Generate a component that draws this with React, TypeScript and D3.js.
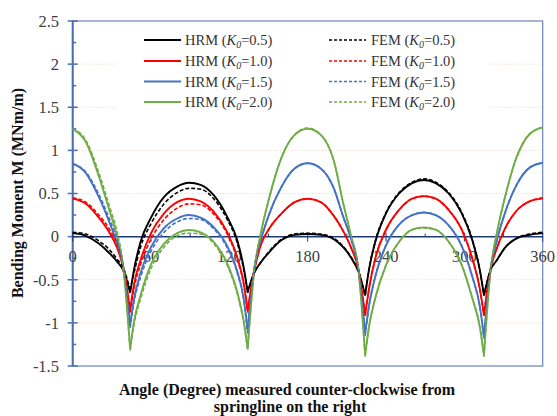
import React, { useEffect, useRef } from "react";
import * as d3 from "d3";

// angle (deg) where the moments were read; joints are the sharp negative cusps
const angles = [
  0, 10, 20, 28, 34, 39, 44,
  47, 52, 60, 70, 80, 89, 98, 108, 118, 126, 131, 134,
  139, 144, 150, 160, 170, 180, 190, 200, 207, 213, 219, 224,
  227, 232, 240, 250, 260, 269, 278, 288, 298, 306, 312, 315,
  320, 325, 331, 340, 350, 360,
];
const joints = [44, 134, 224, 315];

const hrm05 = [
  0.04, 0.01, -0.08, -0.19, -0.29, -0.4, -0.65,
  -0.38, -0.06, 0.22, 0.46, 0.58, 0.625, 0.6, 0.48, 0.24, -0.04, -0.36, -0.64,
  -0.42, -0.3, -0.19, -0.04, 0.02, 0.03, 0.02, -0.03, -0.12, -0.24, -0.41, -0.68,
  -0.38, -0.05, 0.27, 0.5, 0.62, 0.656, 0.62, 0.5, 0.27, -0.04, -0.4, -0.68,
  -0.39, -0.27, -0.13, -0.02, 0.02, 0.04,
];
const hrm10 = [
  0.44, 0.38, 0.22, 0.05, -0.13, -0.38, -0.85,
  -0.55, -0.27, 0.04, 0.27, 0.4, 0.44, 0.41, 0.29, 0.06, -0.24, -0.54, -0.85,
  -0.4, -0.1, 0.08, 0.27, 0.4, 0.44, 0.4, 0.24, 0.07, -0.12, -0.39, -0.91,
  -0.6, -0.24, 0.08, 0.31, 0.44, 0.47, 0.44, 0.31, 0.08, -0.25, -0.62, -0.91,
  -0.38, -0.13, 0.09, 0.3, 0.41, 0.44,
];
const hrm15 = [
  0.85, 0.74, 0.46, 0.17, -0.08, -0.39, -1.02,
  -0.72, -0.42, -0.12, 0.1, 0.21, 0.25, 0.22, 0.11, -0.1, -0.4, -0.72, -1.08,
  -0.38, -0.05, 0.24, 0.58, 0.79, 0.85, 0.79, 0.56, 0.24, -0.02, -0.39, -1.12,
  -0.8, -0.45, -0.1, 0.14, 0.25, 0.28, 0.25, 0.13, -0.11, -0.46, -0.82, -1.16,
  -0.39, -0.04, 0.27, 0.6, 0.8, 0.857,
];
const hrm20 = [
  1.25, 1.1, 0.7, 0.31, 0.0, -0.4, -1.3,
  -0.98, -0.68, -0.32, -0.08, 0.04, 0.077, 0.05, -0.06, -0.3, -0.64, -0.98, -1.29,
  -0.4, 0.03, 0.42, 0.92, 1.18, 1.25, 1.18, 0.88, 0.4, 0.02, -0.4, -1.37,
  -1.04, -0.7, -0.33, -0.06, 0.08, 0.107, 0.08, -0.06, -0.33, -0.71, -1.06, -1.37,
  -0.4, 0.05, 0.45, 0.92, 1.19, 1.267,
];
const fem05 = [
  0.05, 0.03, -0.05, -0.15, -0.26, -0.37, -0.62,
  -0.42, -0.12, 0.15, 0.38, 0.51, 0.56, 0.55, 0.44, 0.21, -0.07, -0.38, -0.65,
  -0.42, -0.3, -0.18, -0.03, 0.03, 0.04, 0.03, -0.02, -0.11, -0.23, -0.41, -0.68,
  -0.37, -0.04, 0.28, 0.51, 0.63, 0.67, 0.63, 0.51, 0.28, -0.03, -0.4, -0.68,
  -0.39, -0.27, -0.13, -0.02, 0.03, 0.05,
];
const fem10 = [
  0.45, 0.4, 0.25, 0.09, -0.09, -0.36, -0.88,
  -0.6, -0.32, -0.03, 0.2, 0.33, 0.38, 0.37, 0.26, 0.04, -0.26, -0.56, -0.88,
  -0.4, -0.1, 0.08, 0.27, 0.4, 0.44, 0.4, 0.24, 0.07, -0.12, -0.39, -0.92,
  -0.6, -0.24, 0.08, 0.31, 0.44, 0.47, 0.44, 0.31, 0.08, -0.25, -0.62, -0.92,
  -0.38, -0.13, 0.09, 0.3, 0.41, 0.45,
];
const fem15 = [
  0.84, 0.75, 0.49, 0.21, -0.04, -0.37, -1.06,
  -0.76, -0.47, -0.17, 0.05, 0.17, 0.21, 0.2, 0.09, -0.12, -0.42, -0.74, -1.12,
  -0.38, -0.05, 0.24, 0.58, 0.79, 0.85, 0.79, 0.56, 0.24, -0.02, -0.39, -1.15,
  -0.8, -0.45, -0.1, 0.14, 0.25, 0.28, 0.25, 0.13, -0.11, -0.46, -0.83, -1.18,
  -0.39, -0.04, 0.27, 0.6, 0.8, 0.857,
];
const fem20 = [
  1.25, 1.12, 0.74, 0.36, 0.05, -0.37, -1.32,
  -1.02, -0.72, -0.37, -0.12, 0.01, 0.04, 0.03, -0.08, -0.32, -0.66, -1.0, -1.31,
  -0.4, 0.03, 0.42, 0.92, 1.18, 1.26, 1.18, 0.88, 0.4, 0.02, -0.4, -1.39,
  -1.04, -0.7, -0.33, -0.06, 0.08, 0.1, 0.08, -0.06, -0.33, -0.71, -1.06, -1.39,
  -0.4, 0.05, 0.45, 0.92, 1.19, 1.267,
];

const kLabels = ["0.5", "1.0", "1.5", "2.0"];
const hrmSeries = [hrm05, hrm10, hrm15, hrm20];
const femSeries = [fem05, fem10, fem15, fem20];
const colors = ["#000000", "#ff0000", "#4472c4", "#70ad47"];

const yTicks = [-1.5, -1, -0.5, 0, 0.5, 1, 1.5, 2, 2.5];
const xTicks = [0, 60, 120, 180, 240, 300, 360];

const FONT = "'Times New Roman', 'Liberation Serif', serif";

export default function App() {
  const ref = useRef<SVGSVGElement>(null);

  useEffect(() => {
    const width = 557;
    const height = 416;
    const svg = d3.select(ref.current).attr("width", width).attr("height", height);
    svg.selectAll("*").remove();

    const left = 72.7, right = 542.7, top = 21, bottom = 366;
    const x = d3.scaleLinear().domain([0, 360]).range([left, right]);
    const y = d3.scaleLinear().domain([-1.5, 2.5]).range([bottom, top]);

    svg.append("rect").attr("width", width).attr("height", height).attr("fill", "#fff");

    // faint dotted gridlines
    svg.append("g")
      .selectAll("line")
      .data(yTicks.filter(d => d !== 0 && d !== -1.5 && d !== 2.5))
      .enter()
      .append("line")
      .attr("x1", left)
      .attr("x2", right)
      .attr("y1", d => y(d))
      .attr("y2", d => y(d))
      .attr("stroke", "#f6cfb5")
      .attr("stroke-width", 1)
      .attr("stroke-dasharray", "1 2");

    // legend background hides gridlines
    svg.append("rect")
      .attr("x", 117).attr("y", 27).attr("width", 371).attr("height", 88)
      .attr("fill", "#fff");

    // plot frame
    svg.append("rect")
      .attr("x", left).attr("y", top)
      .attr("width", right - left).attr("height", bottom - top)
      .attr("fill", "none")
      .attr("stroke", "#6a83b6")
      .attr("stroke-width", 1.2);

    // y axis
    svg.append("line")
      .attr("x1", left).attr("x2", left).attr("y1", top).attr("y2", bottom)
      .attr("stroke", "#4a6eb0").attr("stroke-width", 2);

    const yMinor = d3.range(-1.25, 2.5, 0.5);
    svg.append("g").selectAll("line").data(yMinor).enter().append("line")
      .attr("x1", left).attr("x2", left + 3.5)
      .attr("y1", d => y(d)).attr("y2", d => y(d))
      .attr("stroke", "#4a6eb0").attr("stroke-width", 1.5);
    svg.append("g").selectAll("line").data(yTicks).enter().append("line")
      .attr("x1", left - 5).attr("x2", left + 5)
      .attr("y1", d => y(d)).attr("y2", d => y(d))
      .attr("stroke", "#4a6eb0").attr("stroke-width", 1.5);

    svg.append("g").selectAll("text").data(yTicks).enter().append("text")
      .attr("x", 59)
      .attr("y", d => y(d))
      .attr("dy", "0.35em")
      .attr("text-anchor", "end")
      .attr("font-family", FONT)
      .attr("font-size", "16.5px")
      .attr("fill", "#404040")
      .text(d => String(d));

    // zero line with ticks
    svg.append("line")
      .attr("x1", left).attr("x2", right).attr("y1", y(0)).attr("y2", y(0))
      .attr("stroke", "#1f3a78").attr("stroke-width", 1.5);
    svg.append("g").selectAll("line").data(xTicks).enter().append("line")
      .attr("x1", d => x(d)).attr("x2", d => x(d))
      .attr("y1", y(0) - 4).attr("y2", y(0) + 5)
      .attr("stroke", "#1f3a78").attr("stroke-width", 1);
    svg.append("g").selectAll("line").data(d3.range(30, 360, 60)).enter().append("line")
      .attr("x1", d => x(d)).attr("x2", d => x(d))
      .attr("y1", y(0) - 3).attr("y2", y(0))
      .attr("stroke", "#1f3a78").attr("stroke-width", 1);

    svg.append("g").selectAll("text").data(xTicks).enter().append("text")
      .attr("x", d => x(d))
      .attr("y", y(0) + 25.5)
      .attr("text-anchor", "middle")
      .attr("font-family", FONT)
      .attr("font-size", "16.5px")
      .attr("fill", "#404040")
      .text(d => String(d));

    // split every series at the joints so the cusps stay sharp
    const bounds = [0, ...joints, 360];
    const line = d3.line<[number, number]>()
      .x(d => x(d[0]))
      .y(d => y(d[1]))
      .curve(d3.curveMonotoneX);

    const drawSeries = (values: number[], color: string, dashed: boolean) => {
      const pts: [number, number][] = angles.map((a, i) => [a, values[i]]);
      for (let s = 0; s < bounds.length - 1; s++) {
        const seg = pts.filter(p => p[0] >= bounds[s] && p[0] <= bounds[s + 1]);
        svg.append("path")
          .attr("d", line(seg))
          .attr("fill", "none")
          .attr("stroke", color)
          .attr("stroke-width", dashed ? 1.6 : 1.9)
          .attr("stroke-dasharray", dashed ? "4 2" : null);
      }
    };

    hrmSeries.forEach((v, i) => drawSeries(v, colors[i], false));
    femSeries.forEach((v, i) => drawSeries(v, colors[i], true));

    // legend
    const rowY = [40, 61, 81.5, 102];
    const addEntry = (lx: number, tx: number, name: string, i: number, dashed: boolean) => {
      svg.append("line")
        .attr("x1", lx).attr("x2", lx + 37)
        .attr("y1", rowY[i]).attr("y2", rowY[i])
        .attr("stroke", colors[i])
        .attr("stroke-width", dashed ? 1.5 : 2)
        .attr("stroke-dasharray", dashed ? "3 2" : null);
      const t = svg.append("text")
        .attr("x", tx).attr("y", rowY[i] + 5)
        .attr("font-family", FONT)
        .attr("font-size", "14.5px")
        .attr("fill", "#333");
      t.append("tspan").text(`${name} (`);
      t.append("tspan").attr("font-style", "italic").text("K");
      t.append("tspan").attr("font-style", "italic").attr("font-size", "10px").attr("dy", 3).text("0");
      t.append("tspan").attr("dy", -3).text(`=${kLabels[i]})`);
    };
    kLabels.forEach((_, i) => {
      addEntry(144, 185, "HRM", i, false);
      addEntry(329, 371, "FEM", i, true);
    });

    // axis titles
    svg.append("text")
      .attr("transform", `translate(23, 193) rotate(-90)`)
      .attr("text-anchor", "middle")
      .attr("font-family", FONT)
      .attr("font-size", "16px")
      .attr("font-weight", "bold")
      .attr("fill", "#111")
      .text("Bending Moment M (MNm/m)");

    svg.append("text")
      .attr("x", 287).attr("y", 395)
      .attr("text-anchor", "middle")
      .attr("font-family", FONT)
      .attr("font-size", "16px")
      .attr("font-weight", "bold")
      .attr("fill", "#111")
      .text("Angle (Degree) measured counter-clockwise from");
    svg.append("text")
      .attr("x", 290).attr("y", 412)
      .attr("text-anchor", "middle")
      .attr("font-family", FONT)
      .attr("font-size", "16px")
      .attr("font-weight", "bold")
      .attr("fill", "#111")
      .text("springline on the right");
  }, []);

  return <svg ref={ref} style={{ position: "absolute", left: 0, top: 0 }} />;
}
